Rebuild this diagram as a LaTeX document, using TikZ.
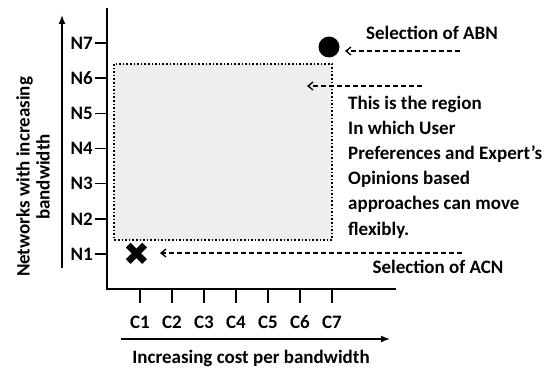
\documentclass[tikz,border=0pt]{standalone}
\usepackage{fontspec}
\setmainfont{Carlito}
\newfontfamily\symfont{DejaVu Sans}
\usepackage{tikz}
\usetikzlibrary{arrows.meta, positioning}

\begin{document}
\begin{tikzpicture}[
      x=1pt, y=-1pt,
      every node/.style={font=\fontsize{19}{25.2}\selectfont\bfseries, inner sep=0pt},
      axis/.style={line width=1.5pt},
      tick/.style={line width=1.5pt},
      bigarrow/.style={line width=1.5pt, -{Latex[length=9pt, width=7pt]}},
      pointer/.style={line width=1.3pt, dash pattern=on 5pt off 3pt, -{Straight Barb[length=5pt, width=8pt]}},
      region/.style={draw, dotted, line width=1.6pt, fill=gray!13}
    ]
      \useasboundingbox (0,0) rectangle (549,369);

      % region of the preference based approaches
      \draw[region] (114,64) rectangle (332,240);

      % axes
      \draw[axis] (107,8) -- (107,289) -- (396,289);
      \foreach \i in {1,...,7} {
        \draw[tick] (95,{254-35.17*(\i-1)}) -- (107,{254-35.17*(\i-1)});
        \node[anchor=east] (n\i) at (93,{254-35.17*(\i-1)}) {N\i};
        \draw[tick] ({140+32*(\i-1)},289) -- ({140+32*(\i-1)},303);
        \node (c\i) at ({140+32*(\i-1)},322) {C\i};
      }

      % axis titles
      \draw[bigarrow] (62,268) -- (62,15);
      \node[rotate=90, align=center, font=\fontsize{19}{20}\selectfont\bfseries] (ylabel) at (33,177)
        {Networks with increasing\\bandwidth};
      \draw[bigarrow] (121,339) -- (390,339);
      \node (xlabel) at (251,358) {Increasing cost per bandwidth};

      % selections
      \node[circle, fill=black, minimum size=21pt] (abn) at (329,47) {};
      \node (acn) at (137,254) {\symfont\fontsize{32}{32}\selectfont ✖};

      \coordinate (abnfrom) at (460,51);
      \coordinate (abnto) at (345,51);
      \draw[pointer] (abnfrom) -- (abnto);
      \node (abntext) at (432,33) {Selection of ABN};

      \coordinate (regfrom) at (422,86);
      \coordinate (regto) at (307,86);
      \draw[pointer] (regfrom) -- (regto);
      \node[anchor=west, align=left] (regtext) at (348,167)
        {This is the region\\In which User\\Preferences and Expert's\\Opinions based\\approaches can move\\flexibly.};

      \coordinate (acnfrom) at (462,253);
      \coordinate (acnto) at (160,253);
      \draw[pointer] (acnfrom) -- (acnto);
      \node (acntext) at (438,267) {Selection of ACN};
    \end{tikzpicture}
\end{document}
